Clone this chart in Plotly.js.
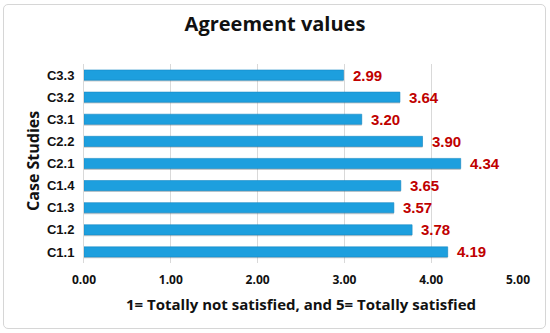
<!DOCTYPE html>
<html>
<head>
<meta charset="utf-8">
<script src="https://cdn.plot.ly/plotly-3.0.1.min.js"></script>
<style>
  html, body { margin: 0; padding: 0; background: #ffffff; }
  #wrap { position: relative; width: 550px; height: 333px; }
  #chart { width: 550px; height: 333px; }
  #frame { position: absolute; left: 3px; top: 4px; width: 541px; height: 323px;
           border: 1.5px solid #d6d6d6; border-radius: 5px; pointer-events: none; }
</style>
</head>
<body>
<div id="wrap">
  <div id="chart"></div>
  <div id="frame"></div>
</div>
<script>
// Data (bottom to top, as drawn)
const categories = ["C1.1", "C1.2", "C1.3", "C1.4", "C2.1", "C2.2", "C3.1", "C3.2", "C3.3"];
const values = [4.19, 3.78, 3.57, 3.65, 4.34, 3.90, 3.20, 3.64, 2.99];
const xTickValues = [0, 1, 2, 3, 4, 5];
const xTickLabels = ["0.00", "1.00", "2.00", "3.00", "4.00", "5.00"];
const titleText = "Agreement values";
const xTitleText = "1= Totally not satisfied, and 5= Totally satisfied";
const yTitleText = "Case Studies";

const shadow = {
  type: "bar", orientation: "h",
  x: values, y: categories,
  width: 0.46, offset: -0.29,
  marker: { color: "rgba(110,110,110,0.35)", line: { width: 0 } },
  hoverinfo: "skip", showlegend: false
};

const bars = {
  type: "bar", orientation: "h",
  x: values, y: categories,
  width: 0.46,
  marker: { color: "#1d9fde", line: { color: "#178ac4", width: 0.6 } },
  showlegend: false
};

const labels = categories.map((c, i) => ({
  x: values[i], y: c, xref: "x", yref: "y",
  text: values[i].toFixed(2),
  showarrow: false, xanchor: "left", yanchor: "middle", xshift: 7,
  font: { family: "Liberation Sans, Arial, sans-serif", size: 15, color: "#c00000", weight: "bold" }
}));

const yTitle = {
  text: yTitleText, textangle: -90,
  xref: "paper", yref: "paper", x: -0.1175, y: 0.513,
  xanchor: "center", yanchor: "middle", showarrow: false,
  font: { family: "Open Sans, sans-serif", size: 16, color: "#111111", weight: "bold" }
};

const layout = {
  width: 550, height: 333,
  margin: { l: 84, r: 32, t: 64, b: 70 },
  paper_bgcolor: "#ffffff", plot_bgcolor: "#ffffff",
  bargap: 0.5, barmode: "overlay",
  title: {
    text: titleText, x: 0.5, xref: "container", xanchor: "center",
    y: 1, yref: "container", yanchor: "top", pad: { t: 17 },
    font: { family: "Open Sans, sans-serif", size: 20, color: "#111111", weight: "bold" }
  },
  xaxis: {
    range: [0, 5], tickvals: xTickValues, ticktext: xTickLabels,
    showgrid: true, gridcolor: "#d9d9d9", gridwidth: 1,
    zeroline: false, showline: false, ticks: "", ticklabelstandoff: 8,
    tickfont: { family: "Open Sans, sans-serif", size: 12, color: "#111111", weight: "bold" },
    title: { text: xTitleText, standoff: 12,
      font: { family: "Open Sans, sans-serif", size: 15, color: "#111111", weight: "bold" } },
    fixedrange: true
  },
  yaxis: {
    categoryorder: "array", categoryarray: categories,
    showgrid: false, zeroline: false, showline: true, linecolor: "#d9d9d9", linewidth: 1,
    ticks: "", ticklabelstandoff: 6,
    tickfont: { family: "Liberation Sans, Arial, sans-serif", size: 13, color: "#111111", weight: "bold" },
    fixedrange: true
  },
  annotations: labels.concat([yTitle])
};

Plotly.newPlot("chart", [shadow, bars], layout, { displayModeBar: false, staticPlot: true });
</script>
</body>
</html>
